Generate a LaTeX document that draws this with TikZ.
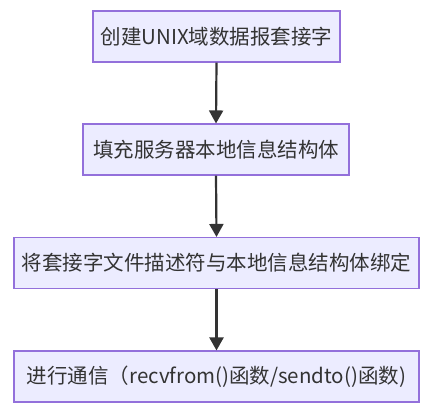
\documentclass[tikz,border=0pt]{standalone}
\usepackage{fontspec}
\setmainfont{Noto Sans CJK SC}
\usetikzlibrary{arrows.meta}
\definecolor{boxfill}{HTML}{ECECFF}
\definecolor{boxdraw}{HTML}{9370DB}
\definecolor{arrowcol}{HTML}{333333}
\tikzset{
  stepbox/.style={draw=boxdraw, fill=boxfill, line width=1.1pt, inner sep=0pt,
    minimum height=51pt, font=\fontsize{20.5pt}{23pt}\selectfont, text=black!80},
  flow/.style={draw=arrowcol, line width=2.2pt, -{Triangle[length=13pt,width=14pt]}, shorten >=0pt}
}
\begin{document}
\begin{tikzpicture}[x=1pt,y=-1pt]
\useasboundingbox (0,0) rectangle (431,418);
\node[stepbox, minimum width=247pt] (a) at (216.5,36.5) {创建UNIX域数据报套接字};
\node[stepbox, minimum width=266pt] (b) at (216,149.5) {填充服务器本地信息结构体};
\node[stepbox, minimum width=405pt] (c) at (216.5,263) {将套接字文件描述符与本地信息结构体绑定};
\node[stepbox, minimum width=405pt] (d) at (216.5,376.5) {进行通信（recvfrom()函数/sendto()函数)\hspace{6pt}};
\draw[flow] (a.south) -- (b.north);
\draw[flow] (b.south) -- (c.north);
\draw[flow] (c.south) -- (d.north);
\end{tikzpicture}
\end{document}
